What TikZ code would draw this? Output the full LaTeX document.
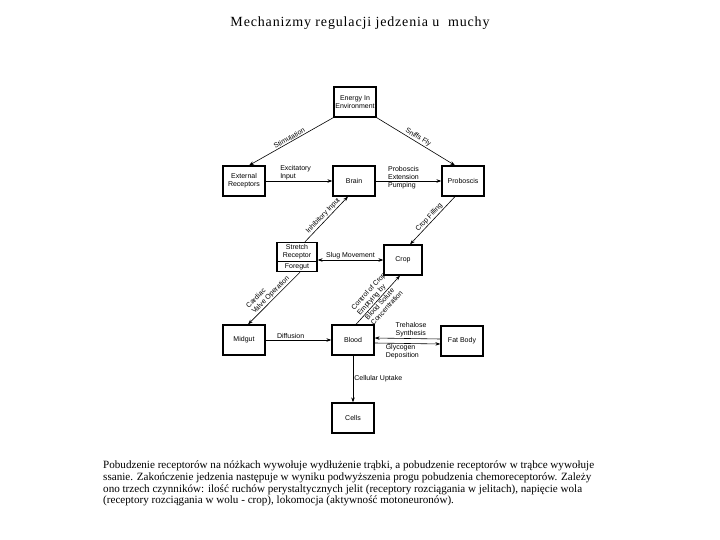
\documentclass[tikz,border=0pt]{standalone}
\usepackage{fontspec}
\setmainfont{Liberation Serif}
\setsansfont{Liberation Sans}
\usetikzlibrary{arrows.meta, positioning, shapes.multipart}

\begin{document}
\begin{tikzpicture}[x=1pt, y=-1pt,
    box/.style={draw, line width=1.2pt, minimum width=42pt, minimum height=30pt, inner sep=1pt,
      align=center, font=\sffamily\fontsize{7}{8}\selectfont},
    flow/.style={-{Stealth[length=5pt,width=3.5pt]}, line width=0.6pt},
    twoway/.style={{Stealth[length=5pt,width=3.5pt]}-{Stealth[length=5pt,width=3.5pt]}, line width=0.6pt},
    lbl/.style={font=\sffamily\fontsize{7}{7.8}\selectfont, inner sep=1pt},
  ]
  \useasboundingbox (0,0) rectangle (720,540);

  \node[font=\fontsize{14}{16}\selectfont\addfontfeatures{LetterSpace=6}] (title) at (360,23)
    {Mechanizmy regulacji jedzenia u\ \ muchy};

  % boxes
  \node[box] (env) at (355,102) {Energy In\\Environment};
  \node[box] (ext) at (244,181) {External\\Receptors};
  \node[box] (brain) at (354,181) {Brain};
  \node[box] (prob) at (463,181) {Proboscis};
  \node[box, rectangle split, rectangle split parts=2, minimum width=40pt,
    minimum height=0pt, inner sep=1.5pt] (stretch) at (297,257)
    {Stretch\\Receptor \nodepart{two} Foregut};
  \node[box, minimum width=38pt] (crop) at (403,260) {Crop};
  \node[box] (midgut) at (244,340) {Midgut};
  \node[box] (blood) at (353,340) {Blood};
  \node[box] (fat) at (462,341) {Fat Body};
  \node[box] (cells) at (353,418) {Cells};

  % connectors
  \draw[flow] (env.south west) -- node[lbl, sloped, above] {Stimulation}
    ([xshift=5pt]ext.north);
  \draw[flow] (env.south east) -- node[lbl, sloped, above] {Sniffs Fly}
    ([xshift=-8pt]prob.north);
  \draw[flow] (ext) -- node[lbl, pos=0.2, anchor=south west, align=left]
    {Excitatory\\Input} (brain);
  \draw[flow] (brain) --
    node[lbl, pos=0.17, anchor=south west, align=left] {Proboscis\\Extension}
    node[lbl, pos=0.17, anchor=north west] {Pumping} (prob);
  \draw[flow] ([xshift=8pt]stretch.north) -- node[lbl, sloped, above]
    {Inhibitory Input} ([xshift=-6pt]brain.south);
  \draw[flow] ([xshift=-8pt]prob.south) -- node[lbl, sloped, above]
    {Crop Filling} ([xshift=7pt]crop.north);
  \draw[twoway] (stretch.east |- crop.west) -- node[lbl, above]
    {Slug Movement} (crop.west);
  \draw[flow] ([xshift=3pt]stretch.south) -- node[lbl, sloped, above, align=left]
    {Cardiac\\Valve Operation} ([xshift=4pt]midgut.north);
  \draw[flow] ([xshift=3pt]blood.north) --
    node[lbl, sloped, above, align=left] {Control of Crop\\Emptying by}
    node[lbl, sloped, below, align=left] {Blood Solute\\Concentration}
    ([xshift=-3pt]crop.south);
  \draw[flow] (midgut) -- node[lbl, pos=0.38, above] {Diffusion} (blood);
  \draw[flow] ([yshift=2pt]fat.west) -- node[lbl, pos=0.7, anchor=south west,
    align=left] {Trehalose\\Synthesis} ([yshift=2pt]blood.east);
  \draw[flow] ([yshift=-3pt]blood.east) -- node[lbl, pos=0.15, anchor=north west,
    align=left] {Glycogen\\Deposition} ([yshift=-3pt]fat.west);
  \draw[flow] (blood) -- node[lbl, right] {Cellular Uptake} (cells);

  \node[anchor=north west, inner sep=0pt, align=left,
    font=\fontsize{11.1}{11.6}\selectfont] (caption) at (103,461)
    {Pobudzenie receptorów na nóżkach wywołuje wydłużenie trąbki, a pobudzenie receptorów w trąbce wywołuje\\
     ssanie. Zakończenie jedzenia następuje w wyniku podwyższenia progu pobudzenia chemoreceptorów. Zależy\\
     ono trzech czynników: ilość ruchów perystaltycznych jelit (receptory rozciągania w jelitach), napięcie wola\\
     (receptory rozciągania w wolu - crop), lokomocja (aktywność motoneuronów).};
\end{tikzpicture}
\end{document}
